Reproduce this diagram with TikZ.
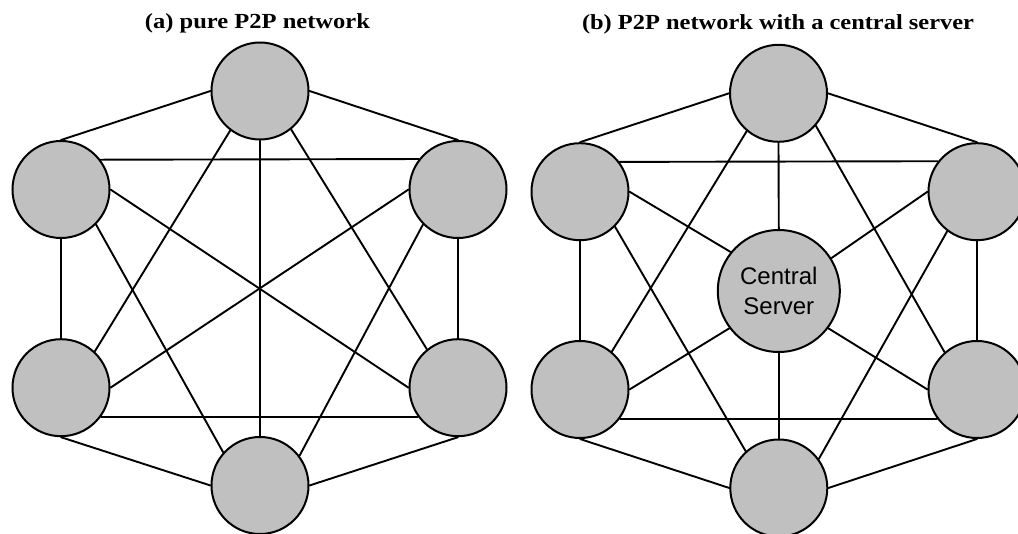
\documentclass[tikz,border=0pt]{standalone}
\usepackage{fontspec}
\setmainfont{Liberation Serif}
\newfontfamily\labelfont{Liberation Sans}
\usepackage{graphicx}
\definecolor{peergray}{RGB}{192,192,192}
\begin{document}
\begin{tikzpicture}[x=1pt,y=-1pt,
  peer/.style={circle,draw,fill=peergray,line width=2pt,inner sep=0pt,minimum size=97pt},
  server/.style={peer,minimum size=122pt,align=center,font=\labelfont\fontsize{24}{29.3}\selectfont},
  link/.style={line width=1.9pt,line cap=round},
  caption/.style={anchor=base,inner sep=0pt,font=\bfseries\fontsize{21.5}{26}\selectfont}]
\useasboundingbox (0,0) rectangle (1018,534);

% captions
\node[caption] (ta) at (257.5,29) {\resizebox{225pt}{\height}{(a) pure P2P network}};
\node[caption] (tb) at (778,29.5) {\resizebox{392pt}{\height}{(b) P2P network with a central server}};

% (a) pure P2P network
\node[peer] (a1) at (260,91) {};
\node[peer] (a2) at (61,189.5) {};
\node[peer] (a3) at (458,189.5) {};
\node[peer] (a4) at (61,387.7) {};
\node[peer] (a5) at (458,387.7) {};
\node[peer] (a6) at (260,485.5) {};

\draw[link] (a1.west) -- (a2.north);
\draw[link] (a1.east) -- (a3.north);
\draw[link] (a2.37.5) -- (a3.142.5);
\draw[link] (a1.south) -- (a6.north);
\draw[link] (a1.233) -- (a4.47);
\draw[link] (a1.309) -- (a5.129);
\draw[link] (a2.east) -- (a5.west);
\draw[link] (a3.west) -- (a4.east);
\draw[link] (a2.south) -- (a4.north);
\draw[link] (a3.south) -- (a5.north);
\draw[link] (a2.-45) -- (a6.138);
\draw[link] (a3.225) -- (a6.37.6);
\draw[link] (a4.-36) -- (a5.216);
\draw[link] (a4.south) -- (a6.west);
\draw[link] (a5.south) -- (a6.east);

% (b) P2P network with a central server
\node[peer] (b1) at (778.5,93.3) {};
\node[peer] (b2) at (580,191.7) {};
\node[peer] (b3) at (977,191.7) {};
\node[peer] (b4) at (580,389.5) {};
\node[peer] (b5) at (977,389.5) {};
\node[peer] (b6) at (778.8,488) {};
\node[server] (bc) at (778.8,291) {Central\\Server};

\draw[link] (b1.west) -- (b2.north);
\draw[link] (b1.east) -- (b3.north);
\draw[link] (b2.37.5) -- (b3.142.5);
\draw[link] (b1.south) -- (bc.north);
\draw[link] (b1.230) -- (b4.50);
\draw[link] (b1.319) -- (b5.131);
\draw[link] (b2.east) -- (bc.141);
\draw[link] (b3.west) -- (bc.32);
\draw[link] (b2.-45) -- (b6.132);
\draw[link] (b3.233) -- (b6.36.5);
\draw[link] (b4.east) -- (bc.217.5);
\draw[link] (b5.west) -- (bc.-37);
\draw[link] (bc.south) -- (b6.north);
\draw[link] (b2.south) -- (b4.north);
\draw[link] (b3.south) -- (b5.north);
\draw[link] (b4.-36) -- (b5.216);
\draw[link] (b4.south) -- (b6.west);
\draw[link] (b5.south) -- (b6.east);
\end{tikzpicture}
\end{document}
